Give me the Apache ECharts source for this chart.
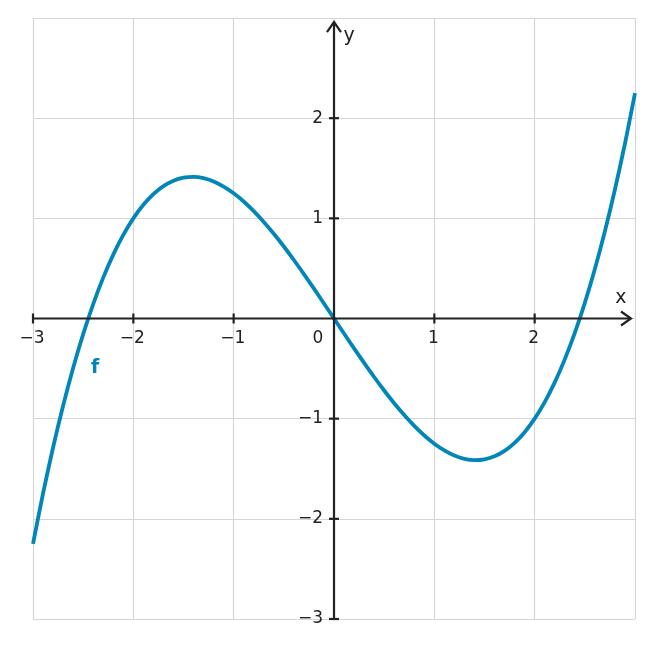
<!DOCTYPE html>
<html><head><meta charset="utf-8">
<script src="https://cdn.jsdelivr.net/npm/echarts@6/dist/echarts.min.js"></script>
<style>html,body{margin:0;padding:0;background:#fff}#c{width:653px;height:648px}</style>
</head><body><div id="c"></div>
<script>
const xs = [-3,-2.9,-2.8,-2.7,-2.6,-2.5,-2.4,-2.3,-2.2,-2.1,-2,-1.9,-1.8,-1.7,-1.6,-1.5,-1.4,-1.3,-1.2,-1.1,-1,-0.9,-0.8,-0.7,-0.6,-0.5,-0.4,-0.3,-0.2,-0.1,0,
  0.1,0.2,0.3,0.4,0.5,0.6,0.7,0.8,0.9,1,1.1,1.2,1.3,1.4,1.5,1.6,1.7,1.8,1.9,2,2.1,2.2,2.3,2.4,2.5,2.6,2.7,2.8,2.9,3];
const fVals = [-2.25,-1.747,-1.288,-0.871,-0.494,-0.156,0.144,0.408,0.638,0.835,1.0,1.135,1.242,1.322,1.376,1.406,1.414,1.401,1.368,1.317,1.25,1.168,1.072,0.964,0.846,0.719,0.584,0.443,0.298,0.15,0,
  -0.15,-0.298,-0.443,-0.584,-0.719,-0.846,-0.964,-1.072,-1.168,-1.25,-1.317,-1.368,-1.401,-1.414,-1.406,-1.376,-1.322,-1.242,-1.135,-1.0,-0.835,-0.638,-0.408,-0.144,0.156,0.494,0.871,1.288,1.747,2.25];
const xTicks = [-3,-2,-1,0,1,2];
const yTicks = [-3,-2,-1,1,2];
const fLabelPos = [-2.38,-0.49];

const AX = '#222222', BLUE = '#0086b8', FONT = 'DejaVu Sans';
const chart = echarts.init(document.getElementById('c'));
const curve = xs.map((x,i)=>[x,fVals[i]]);

function renderAxes(params, api){
  const ch = [];
  const line = (pts, w) => ({type:'polyline', shape:{points:pts}, style:{stroke:AX, lineWidth:w||2.2, fill:null}, z2:5});
  const xa = api.coord([-3,0]), xb = api.coord([2.96,0]);
  const ya = api.coord([0,-3]), yb = api.coord([0,2.96]);
  ch.push(line([xa, xb]));
  ch.push(line([[xb[0]-10,xb[1]-7],[xb[0],xb[1]],[xb[0]-10,xb[1]+7]]));
  ch.push(line([ya, yb]));
  ch.push(line([[yb[0]-7,yb[1]+10],[yb[0],yb[1]],[yb[0]+7,yb[1]+10]]));
  xTicks.forEach(t=>{
    const p = api.coord([t,0]);
    if (t!==0) ch.push(line([[p[0],p[1]-5],[p[0],p[1]+5]]));
    ch.push({type:'text', x: t===0 ? p[0]-16 : p[0]-1, y: p[1]+20,
      style:{text: String(t).replace('-','\u2212'), fill:AX, font:'17px '+FONT, align:'center', verticalAlign:'middle'}, z2:6});
  });
  yTicks.forEach(t=>{
    const p = api.coord([0,t]);
    ch.push(line([[p[0]-5,p[1]],[p[0]+5,p[1]]]));
    ch.push({type:'text', x: p[0]-11, y: p[1],
      style:{text: String(t).replace('-','\u2212'), fill:AX, font:'17px '+FONT, align:'right', verticalAlign:'middle'}, z2:6});
  });
  const xl = api.coord([2.86,0.2]), yl = api.coord([0,2.82]);
  ch.push({type:'text', x:xl[0], y:xl[1], style:{text:'x', fill:AX, font:'19px '+FONT, align:'center', verticalAlign:'middle'}, z2:6});
  ch.push({type:'text', x:yl[0]+15, y:yl[1], style:{text:'y', fill:AX, font:'19px '+FONT, align:'center', verticalAlign:'middle'}, z2:6});
  return {type:'group', children: ch};
}

chart.setOption({
  animation:false,
  grid:{left:33,right:18,top:18,bottom:29},
  xAxis:{type:'value',min:-3,max:3,interval:1,axisLine:{show:false},axisTick:{show:false},axisLabel:{show:false},
    splitLine:{show:true,lineStyle:{color:'#d6d6d6',width:1.2}}},
  yAxis:{type:'value',min:-3,max:3,interval:1,axisLine:{show:false},axisTick:{show:false},axisLabel:{show:false},
    splitLine:{show:true,lineStyle:{color:'#d6d6d6',width:1.2}}},
  series:[
    {type:'line', data:curve, smooth:0.3, showSymbol:false, lineStyle:{color:BLUE,width:3.8}, z:3, clip:true},
    {type:'custom', renderItem:renderAxes, data:[[0,0]], z:5, silent:true},
    {type:'scatter', data:[fLabelPos], symbolSize:0, z:6, itemStyle:{opacity:1},
      label:{show:true, position:'inside', formatter:'f', color:BLUE, opacity:1, fontWeight:'bold', fontSize:19, fontFamily:FONT, textBorderWidth:0}}
  ]
});
</script></body></html>
